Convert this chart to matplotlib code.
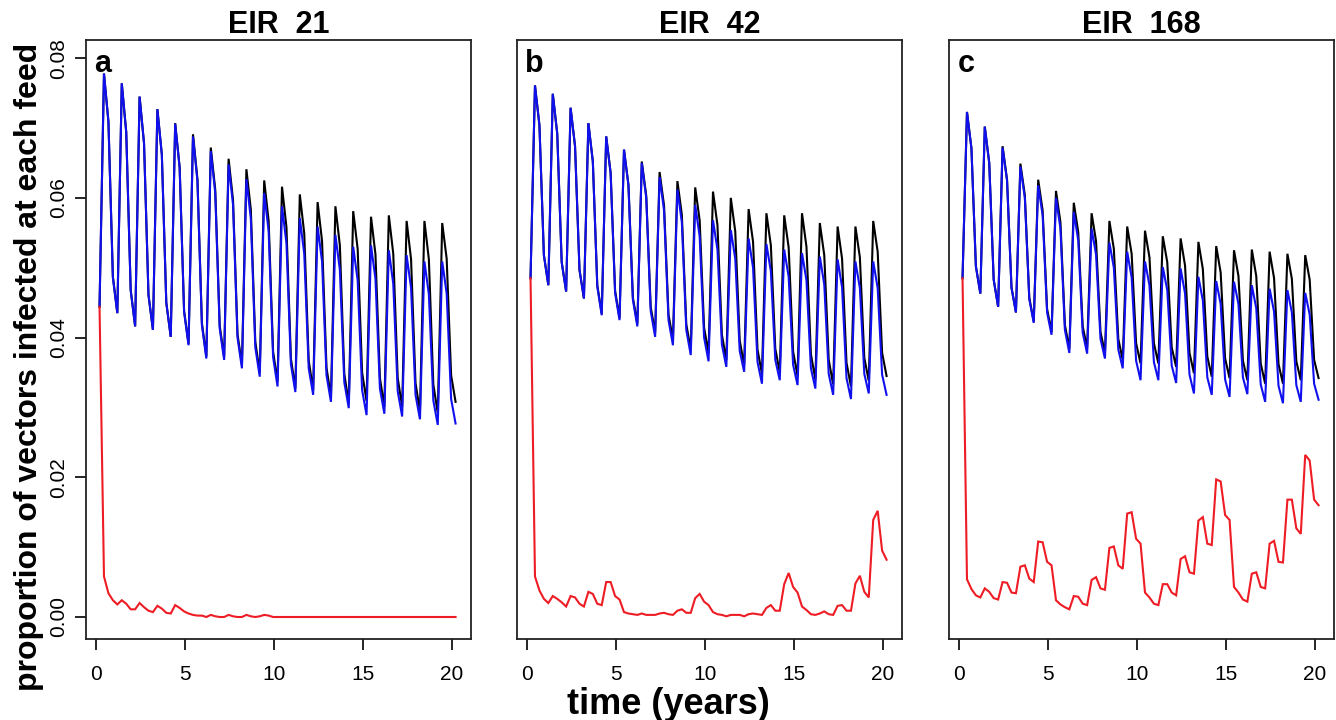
import numpy as np
import matplotlib
matplotlib.use("Agg")
import matplotlib.pyplot as plt

plt.rcParams['font.family'] = ['Liberation Sans', 'DejaVu Sans']

# quarterly time points (years)
time_years = np.arange(0.2, 20.21, 0.25)

panel_titles = ["EIR  21", "EIR  42", "EIR  168"]
panel_letters = ["a", "b", "c"]
x_ticks = [0, 5, 10, 15, 20]
y_ticks = [0.00, 0.02, 0.04, 0.06, 0.08]

# ---- panel a (EIR 21) ----
black_a = [0.0444,
    0.0778, 0.0709, 0.0487, 0.0435,  0.0764, 0.0694, 0.0468, 0.0416,
    0.0745, 0.0678, 0.0461, 0.0411,  0.0727, 0.0662, 0.0450, 0.0401,
    0.0707, 0.0644, 0.0438, 0.0391,  0.0691, 0.0627, 0.0421, 0.0373,
    0.0672, 0.0612, 0.0417, 0.0372,  0.0656, 0.0597, 0.0405, 0.0361,
    0.0641, 0.0583, 0.0394, 0.0350,  0.0625, 0.0567, 0.0380, 0.0337,
    0.0616, 0.0558, 0.0370, 0.0327,  0.0605, 0.0549, 0.0367, 0.0325,
    0.0594, 0.0538, 0.0357, 0.0315,  0.0588, 0.0532, 0.0348, 0.0306,
    0.0581, 0.0527, 0.0350, 0.0309,  0.0573, 0.0519, 0.0342, 0.0301,
    0.0575, 0.0520, 0.0342, 0.0301,  0.0567, 0.0512, 0.0335, 0.0294,
    0.0567, 0.0512, 0.0333, 0.0292,  0.0564, 0.0513, 0.0346, 0.0308]
blue_a = [0.0444,
    0.0778, 0.0709, 0.0486, 0.0435,  0.0764, 0.0694, 0.0468, 0.0416,
    0.0745, 0.0678, 0.0461, 0.0411,  0.0727, 0.0662, 0.0450, 0.0401,
    0.0706, 0.0643, 0.0437, 0.0389,  0.0688, 0.0624, 0.0418, 0.0370,
    0.0667, 0.0607, 0.0413, 0.0368,  0.0648, 0.0590, 0.0400, 0.0356,
    0.0627, 0.0570, 0.0386, 0.0344,  0.0607, 0.0552, 0.0372, 0.0330,
    0.0588, 0.0535, 0.0362, 0.0322,  0.0571, 0.0520, 0.0356, 0.0318,
    0.0559, 0.0509, 0.0346, 0.0308,  0.0547, 0.0497, 0.0336, 0.0299,
    0.0530, 0.0482, 0.0325, 0.0289,  0.0532, 0.0484, 0.0327, 0.0291,
    0.0525, 0.0477, 0.0323, 0.0287,  0.0518, 0.0471, 0.0318, 0.0283,
    0.0509, 0.0462, 0.0310, 0.0275,  0.0509, 0.0463, 0.0312, 0.0277]
red_a = [0.0444,
    0.0058, 0.0034, 0.0024, 0.0018,  0.0024, 0.0019, 0.0011, 0.0011,
    0.0020, 0.0014, 0.0009, 0.0007,  0.0016, 0.0012, 0.0006, 0.0005,
    0.0017, 0.0013, 0.0008, 0.0005,  0.0003, 0.0002, 0.0002, 0.0000,
    0.0003, 0.0001, 0.0000, 0.0000,  0.0003, 0.0001, 0.0000, 0.0000,
    0.0003, 0.0001, 0.0000, 0.0001,  0.0003, 0.0002, 0.0000, 0.0000,
    0.0000, 0.0000, 0.0000, 0.0000,  0.0000, 0.0000, 0.0000, 0.0000,
    0.0000, 0.0000, 0.0000, 0.0000,  0.0000, 0.0000, 0.0000, 0.0000,
    0.0000, 0.0000, 0.0000, 0.0000,  0.0000, 0.0000, 0.0000, 0.0000,
    0.0000, 0.0000, 0.0000, 0.0000,  0.0000, 0.0000, 0.0000, 0.0000,
    0.0000, 0.0000, 0.0000, 0.0000,  0.0000, 0.0000, 0.0000, 0.0000]

# ---- panel b (EIR 42) ----
black_b = [0.0485,
    0.0761, 0.0704, 0.0518, 0.0475,  0.0749, 0.0692, 0.0508, 0.0466,
    0.0729, 0.0674, 0.0497, 0.0456,  0.0707, 0.0652, 0.0475, 0.0434,
    0.0688, 0.0636, 0.0467, 0.0428,  0.0669, 0.0619, 0.0457, 0.0420,
    0.0652, 0.0603, 0.0444, 0.0407,  0.0637, 0.0589, 0.0433, 0.0397,
    0.0624, 0.0576, 0.0419, 0.0383,  0.0615, 0.0568, 0.0414, 0.0378,
    0.0609, 0.0561, 0.0404, 0.0368,  0.0600, 0.0552, 0.0396, 0.0360,
    0.0584, 0.0537, 0.0383, 0.0348,  0.0578, 0.0532, 0.0384, 0.0350,
    0.0575, 0.0529, 0.0380, 0.0345,  0.0578, 0.0530, 0.0376, 0.0340,
    0.0564, 0.0518, 0.0368, 0.0333,  0.0559, 0.0513, 0.0364, 0.0330,
    0.0559, 0.0515, 0.0371, 0.0338,  0.0567, 0.0523, 0.0378, 0.0345]
blue_b = [0.0485,
    0.0761, 0.0704, 0.0518, 0.0475,  0.0749, 0.0692, 0.0508, 0.0466,
    0.0729, 0.0674, 0.0497, 0.0456,  0.0707, 0.0652, 0.0473, 0.0432,
    0.0688, 0.0635, 0.0464, 0.0425,  0.0669, 0.0618, 0.0454, 0.0416,
    0.0650, 0.0600, 0.0438, 0.0401,  0.0630, 0.0582, 0.0425, 0.0389,
    0.0612, 0.0565, 0.0411, 0.0375,  0.0590, 0.0545, 0.0400, 0.0366,
    0.0568, 0.0526, 0.0390, 0.0358,  0.0554, 0.0513, 0.0381, 0.0351,
    0.0542, 0.0500, 0.0365, 0.0334,  0.0534, 0.0495, 0.0368, 0.0339,
    0.0526, 0.0487, 0.0361, 0.0332,  0.0521, 0.0482, 0.0356, 0.0327,
    0.0516, 0.0476, 0.0348, 0.0318,  0.0512, 0.0472, 0.0342, 0.0312,
    0.0509, 0.0471, 0.0348, 0.0320,  0.0509, 0.0471, 0.0347, 0.0318]
red_b = [0.0485,
    0.0058, 0.0038, 0.0026, 0.0020,  0.0030, 0.0026, 0.0021, 0.0015,
    0.0030, 0.0028, 0.0019, 0.0015,  0.0036, 0.0033, 0.0019, 0.0017,
    0.0050, 0.0050, 0.0030, 0.0025,  0.0007, 0.0005, 0.0004, 0.0003,
    0.0005, 0.0003, 0.0003, 0.0003,  0.0005, 0.0006, 0.0004, 0.0003,
    0.0009, 0.0011, 0.0006, 0.0006,  0.0027, 0.0033, 0.0022, 0.0017,
    0.0007, 0.0004, 0.0003, 0.0001,  0.0003, 0.0003, 0.0003, 0.0001,
    0.0004, 0.0005, 0.0004, 0.0003,  0.0013, 0.0017, 0.0009, 0.0009,
    0.0047, 0.0063, 0.0043, 0.0035,  0.0015, 0.0010, 0.0004, 0.0003,
    0.0005, 0.0008, 0.0004, 0.0003,  0.0016, 0.0017, 0.0009, 0.0009,
    0.0048, 0.0059, 0.0036, 0.0028,  0.0139, 0.0152, 0.0095, 0.0082]

# ---- panel c (EIR 168) ----
black_c = [0.0485,
    0.0723, 0.0671, 0.0502, 0.0463,  0.0702, 0.0650, 0.0483, 0.0444,
    0.0674, 0.0626, 0.0472, 0.0436,  0.0649, 0.0604, 0.0457, 0.0423,
    0.0626, 0.0582, 0.0441, 0.0408,  0.0610, 0.0565, 0.0418, 0.0384,
    0.0593, 0.0551, 0.0416, 0.0385,  0.0578, 0.0538, 0.0408, 0.0378,
    0.0567, 0.0527, 0.0398, 0.0368,  0.0559, 0.0520, 0.0392, 0.0363,
    0.0553, 0.0515, 0.0392, 0.0363,  0.0545, 0.0508, 0.0386, 0.0358,
    0.0542, 0.0503, 0.0378, 0.0349,  0.0537, 0.0498, 0.0373, 0.0344,
    0.0531, 0.0493, 0.0370, 0.0342,  0.0525, 0.0488, 0.0367, 0.0339,
    0.0526, 0.0488, 0.0363, 0.0334,  0.0523, 0.0485, 0.0362, 0.0334,
    0.0520, 0.0484, 0.0366, 0.0339,  0.0518, 0.0483, 0.0368, 0.0342]
blue_c = [0.0485,
    0.0723, 0.0671, 0.0502, 0.0463,  0.0702, 0.0650, 0.0483, 0.0444,
    0.0672, 0.0625, 0.0471, 0.0436,  0.0645, 0.0600, 0.0455, 0.0421,
    0.0618, 0.0575, 0.0436, 0.0404,  0.0600, 0.0556, 0.0411, 0.0378,
    0.0580, 0.0539, 0.0407, 0.0377,  0.0556, 0.0519, 0.0398, 0.0370,
    0.0536, 0.0500, 0.0383, 0.0356,  0.0523, 0.0486, 0.0367, 0.0339,
    0.0509, 0.0475, 0.0365, 0.0339,  0.0501, 0.0468, 0.0360, 0.0335,
    0.0499, 0.0463, 0.0347, 0.0320,  0.0487, 0.0453, 0.0343, 0.0318,
    0.0481, 0.0448, 0.0340, 0.0315,  0.0480, 0.0448, 0.0343, 0.0319,
    0.0475, 0.0442, 0.0333, 0.0308,  0.0470, 0.0437, 0.0331, 0.0306,
    0.0468, 0.0436, 0.0332, 0.0308,  0.0464, 0.0433, 0.0334, 0.0311]
red_c = [0.0485,
    0.0054, 0.0040, 0.0031, 0.0028,  0.0041, 0.0036, 0.0027, 0.0025,
    0.0050, 0.0049, 0.0035, 0.0034,  0.0072, 0.0074, 0.0055, 0.0050,
    0.0108, 0.0107, 0.0079, 0.0074,  0.0024, 0.0018, 0.0014, 0.0011,
    0.0030, 0.0029, 0.0019, 0.0017,  0.0053, 0.0057, 0.0041, 0.0039,
    0.0099, 0.0101, 0.0074, 0.0069,  0.0148, 0.0150, 0.0112, 0.0105,
    0.0035, 0.0028, 0.0019, 0.0017,  0.0047, 0.0047, 0.0035, 0.0031,
    0.0083, 0.0087, 0.0064, 0.0062,  0.0138, 0.0143, 0.0105, 0.0103,
    0.0197, 0.0194, 0.0146, 0.0139,  0.0043, 0.0035, 0.0025, 0.0022,
    0.0062, 0.0064, 0.0043, 0.0041,  0.0105, 0.0109, 0.0079, 0.0078,
    0.0168, 0.0168, 0.0127, 0.0119,  0.0232, 0.0224, 0.0168, 0.0160]

panels = [
    (black_a, blue_a, red_a),
    (black_b, blue_b, red_b),
    (black_c, blue_c, red_c),
]

W, H = 1336, 720
fig = plt.figure(figsize=(W / 100, H / 100), dpi=100)
lefts = [86, 517, 949]
ax_w, ax_bottom, ax_h = 384.7, 81, 599
title_y = [1.012, 1.012, 1.011]

for i, (blk, blu, red) in enumerate(panels):
    ax = fig.add_axes([lefts[i] / W, ax_bottom / H, ax_w / W, ax_h / H])
    ax.plot(time_years, blk, color="black", lw=1.5, solid_joinstyle="miter")
    ax.plot(time_years, blu, color="#1010ee", lw=1.5, solid_joinstyle="miter")
    ax.plot(time_years, red, color="#ee1c24", lw=1.5, solid_joinstyle="miter")
    ax.set_xlim(-0.56, 21.05)
    ax.set_ylim(-0.00315, 0.0826)
    for sp in ax.spines.values():
        sp.set_linewidth(1.3)
        sp.set_color("#222222")
    ax.set_xticks(x_ticks)
    ax.set_xticklabels([str(v) for v in x_ticks])
    ax.tick_params(axis="x", direction="out", length=8, width=1.2,
                   labelsize=15, pad=11)
    if i == 0:
        ax.set_yticks(y_ticks)
        ax.set_yticklabels(["%.2f" % v for v in y_ticks], rotation=90, va="center")
        ax.tick_params(axis="y", direction="out", length=8, width=1.2,
                       labelsize=15, pad=5)
    else:
        ax.set_yticks([])
    ax.text(0.5, title_y[i], panel_titles[i], transform=ax.transAxes, ha="center",
            va="baseline", fontsize=22, fontweight="bold")
    ax.text(0.022, 0.947, panel_letters[i], transform=ax.transAxes, ha="left",
            va="baseline", fontsize=22, fontweight="bold")

fig.text(0.022, 0.49, "proportion of vectors infected at each feed", rotation=90,
         ha="center", va="center", fontsize=23, fontweight="bold")
fig.text(668 / W, 0.021, "time (years)", ha="center", va="center",
         fontsize=26, fontweight="bold")

fig.savefig("out.png", dpi=100)
